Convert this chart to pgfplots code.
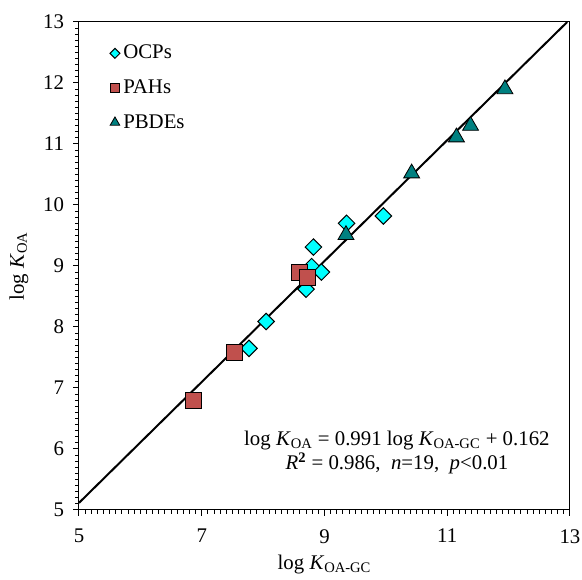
\documentclass[border=0pt]{standalone}
\usepackage{fontspec}
\setmainfont{Liberation Serif}
\usepackage{pgfplots}
\pgfplotsset{compat=1.18}
\definecolor{ocpcyan}{RGB}{0,255,255}
\definecolor{pahred}{RGB}{192,80,77}
\definecolor{pbdeteal}{RGB}{0,128,128}

\begin{document}
\begin{tikzpicture}
\useasboundingbox (-47.4pt,-42pt) rectangle (301.8pt,306pt);
\begin{axis}[
    at={(0pt,0pt)}, anchor=south west,
    scale only axis,
    width=294.6pt, height=292.8pt,
    xmin=5, xmax=13, ymin=5, ymax=13,
    xtick={5,7,9,11,13}, ytick={5,6,...,13},
    minor x tick num=19, minor y tick num=9,
    xtick pos=left, ytick pos=left,
    tick align=outside,
    major tick length=3.5pt, minor tick length=2.2pt,
    every tick/.style={black, line width=0.6pt},
    axis line style={line width=0.6pt},
    /pgf/number format/assume math mode=true,
    tick label style={font=\fontsize{12.5}{14}\selectfont},
    xticklabel style={yshift=-4.5pt},
    yticklabel style={xshift=-2pt},
    xlabel={log \textit{K}\textsubscript{OA-GC}},
    ylabel={log \textit{K}\textsubscript{OA}},
    label style={font=\fontsize{12.5}{14}\selectfont},
    xlabel style={yshift=-0.5pt},
    ylabel style={yshift=2pt},
    legend style={draw=none, fill=none, at={(axis cs:5.5,12.68)}, anchor=north west,
        font=\fontsize{12.5}{14}\selectfont, row sep=7pt, inner sep=0pt},
    legend cell align=left,
    legend image post style={scale=0.6},
    clip=true,
]
\addplot[only marks, mark=square*, mark size=3.5pt,
    mark options={rotate=45, fill=ocpcyan, draw=black, line width=0.6pt}]
    coordinates {(8.82,9.31) (8.79,8.99) (8.95,8.90) (8.70,8.62) (8.05,8.09)
                 (7.77,7.65) (9.96,9.82) (9.36,9.70)};
\addlegendentry{OCPs}
\addplot[only marks, mark=square*, mark size=4.8pt,
    mark options={fill=pahred, draw=black, line width=0.6pt}]
    coordinates {(8.60,8.89) (8.72,8.81) (7.54,7.59) (6.86,6.80)};
\addlegendentry{PAHs}
\addplot[only marks, mark=triangle*, mark size=5.5pt,
    mark options={fill=pbdeteal, draw=black, line width=0.5pt}]
    coordinates {(9.35,9.51) (10.42,10.52) (11.15,11.11) (11.38,11.30) (11.94,11.90)};
\addlegendentry{PBDEs}
\addplot[black, line width=1.2pt, forget plot] coordinates {(5,5.117) (12.955,13)};
\node[align=center, font=\fontsize{12.5}{14}\selectfont] at (axis cs:10.18,5.94)
    {log \textit{K}\textsubscript{OA} = 0.991 log \textit{K}\textsubscript{OA-GC} + 0.162\\
     \textit{R}\textsuperscript{\textbf{2}} = 0.986,\ \ \textit{n}=19,\ \ \textit{p}<0.01};
\end{axis}
\end{tikzpicture}
\end{document}
